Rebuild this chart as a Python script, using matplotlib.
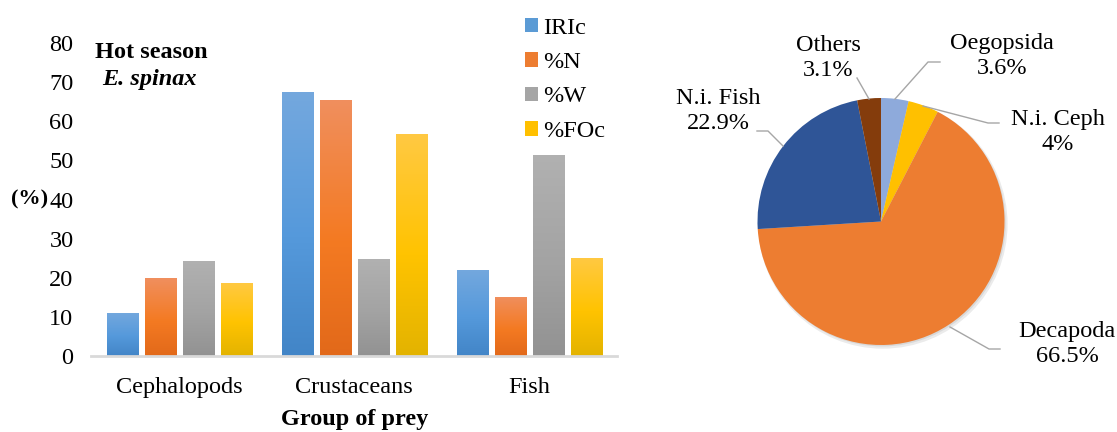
import numpy as np
import matplotlib.pyplot as plt
from matplotlib.colors import LinearSegmentedColormap
from matplotlib.patches import Circle

plt.rcParams['font.family'] = ['Liberation Serif', 'DejaVu Serif']
plt.rcParams['font.size'] = 17.5

W, H = 1117, 432

# bar chart data
groups = ['Cephalopods', 'Crustaceans', 'Fish']
series = ['IRIc', '%N', '%W', '%FOc']
iric = [11.0, 67.5, 22.0]
pct_n = [19.9, 65.5, 15.2]
pct_w = [24.3, 24.8, 51.4]
pct_foc = [18.7, 56.8, 25.1]

# pie chart data (clockwise from 12 o'clock)
pie_labels = ['Oegopsida', 'N.i. Ceph', 'Decapoda', 'N.i. Fish', 'Others']
pie_values = [3.6, 4.0, 66.5, 22.9, 3.1]
pie_text = ['3.6%', '4%', '66.5%', '22.9%', '3.1%']

# gradient stops: top, middle, bottom
bar_grads = [
    ['#74A8DE', '#5599DB', '#4285C7'],
    ['#F08F5E', '#F47A22', '#E2691A'],
    ['#B1B1B1', '#A3A3A3', '#929292'],
    ['#FFC943', '#FFC300', '#E3B300'],
]
bar_colors = ['#5B9BD5', '#ED7D31', '#A5A5A5', '#FFC000']
pie_colors = ['#8EAADB', '#FFC000', '#ED7D31', '#2F5597', '#843C0C']


def px(x, y):
    return x / W, 1 - y / H


fig = plt.figure(figsize=(W / 100, H / 100), dpi=100)

# ---- bars ----
ax = fig.add_axes([91.5 / W, 1 - 356 / H, 525.5 / W, 313 / H])
x = np.arange(len(groups))
width = 0.177
step = 0.217
values = [iric, pct_n, pct_w, pct_foc]
for i, (vals, stops) in enumerate(zip(values, bar_grads)):
    cmap = LinearSegmentedColormap.from_list('g%d' % i, [(0, stops[2]), (0.45, stops[1]), (1, stops[0])])
    bars = ax.bar(x + (i - 1.5) * step, vals, width, color=bar_colors[i], label=series[i])
    for b in bars:
        x0, y0 = b.get_x(), b.get_y()
        w, h = b.get_width(), b.get_height()
        grad = np.linspace(0, 1, 256).reshape(-1, 1)
        im = ax.imshow(grad, cmap=cmap, origin='lower', aspect='auto',
                       extent=[x0, x0 + w, y0, y0 + h], zorder=2)
        im.set_clip_path(b)

ax.set_xlim(-0.5, 2.5)
ax.set_ylim(0, 80)
ax.set_yticks(range(0, 81, 10))
ax.set_xticks(x)
ax.set_xticklabels(groups)
ax.tick_params(axis='both', length=0)
ax.tick_params(axis='y', pad=13)
ax.tick_params(axis='x', pad=15)
for s in ['top', 'right', 'left']:
    ax.spines[s].set_visible(False)
ax.spines['bottom'].set_color('#D9D9D9')
ax.spines['bottom'].set_linewidth(2)
ax.set_xlabel('Group of prey', fontweight='bold', labelpad=8)

fig.text(*px(11, 199), '(%)', fontweight='bold', va='center', ha='left', fontsize=16)
fig.text(*px(95, 52), 'Hot season', fontweight='bold', va='center', ha='left')
fig.text(*px(102, 80), 'E. spinax', fontweight='bold', style='italic', va='center', ha='left')

handles, labels = ax.get_legend_handles_labels()
fig.legend(handles, labels, loc='upper left', bbox_to_anchor=px(515, 8), frameon=False,
           handlelength=0.55, handleheight=0.55, handletextpad=0.2, labelspacing=0.55,
           borderaxespad=0)

# ---- pie ----
R = 123.5
cx, cy = 881, 221.5
half = 210
pax = fig.add_axes([(cx - half) / W, 1 - (cy + half) / H, 2 * half / W, 2 * half / H])

pax.add_patch(Circle((0.015, -0.02), 1.01, color='#000000', alpha=0.08, lw=0))
pax.add_patch(Circle((0.01, -0.012), 1.0, color='#000000', alpha=0.08, lw=0))
pax.pie(pie_values, colors=pie_colors, startangle=90, counterclock=False, radius=1,
        wedgeprops=dict(linewidth=0))
lim = half / R
pax.set_xlim(-lim, lim)
pax.set_ylim(-lim, lim)
pax.axis('off')


def d(x, y):
    return (x - cx) / R, (cy - y) / R


# label positions and leader lines (pixel coordinates)
label_pos = [(1002, 56), (1058, 132), (1067, 344), (718, 111), (828, 58)]
leaders = [
    [(895, 99), (928, 62), (940, 62)],
    [(923, 106), (988, 123), (999, 123)],
    [(950, 327), (989, 349), (1000, 349)],
    [(783, 146), (768, 131), (757, 131)],
    [(869, 99), (857, 78)],
]
for name, pct, pos, line in zip(pie_labels, pie_text, label_pos, leaders):
    pax.text(*d(*pos), name + '\n' + pct, ha='center', va='center', linespacing=1.3,
             clip_on=False)
    pts = np.array([d(*p) for p in line])
    pax.plot(pts[:, 0], pts[:, 1], color='#A6A6A6', lw=1, clip_on=False)

fig.savefig('out.png', dpi=100)
